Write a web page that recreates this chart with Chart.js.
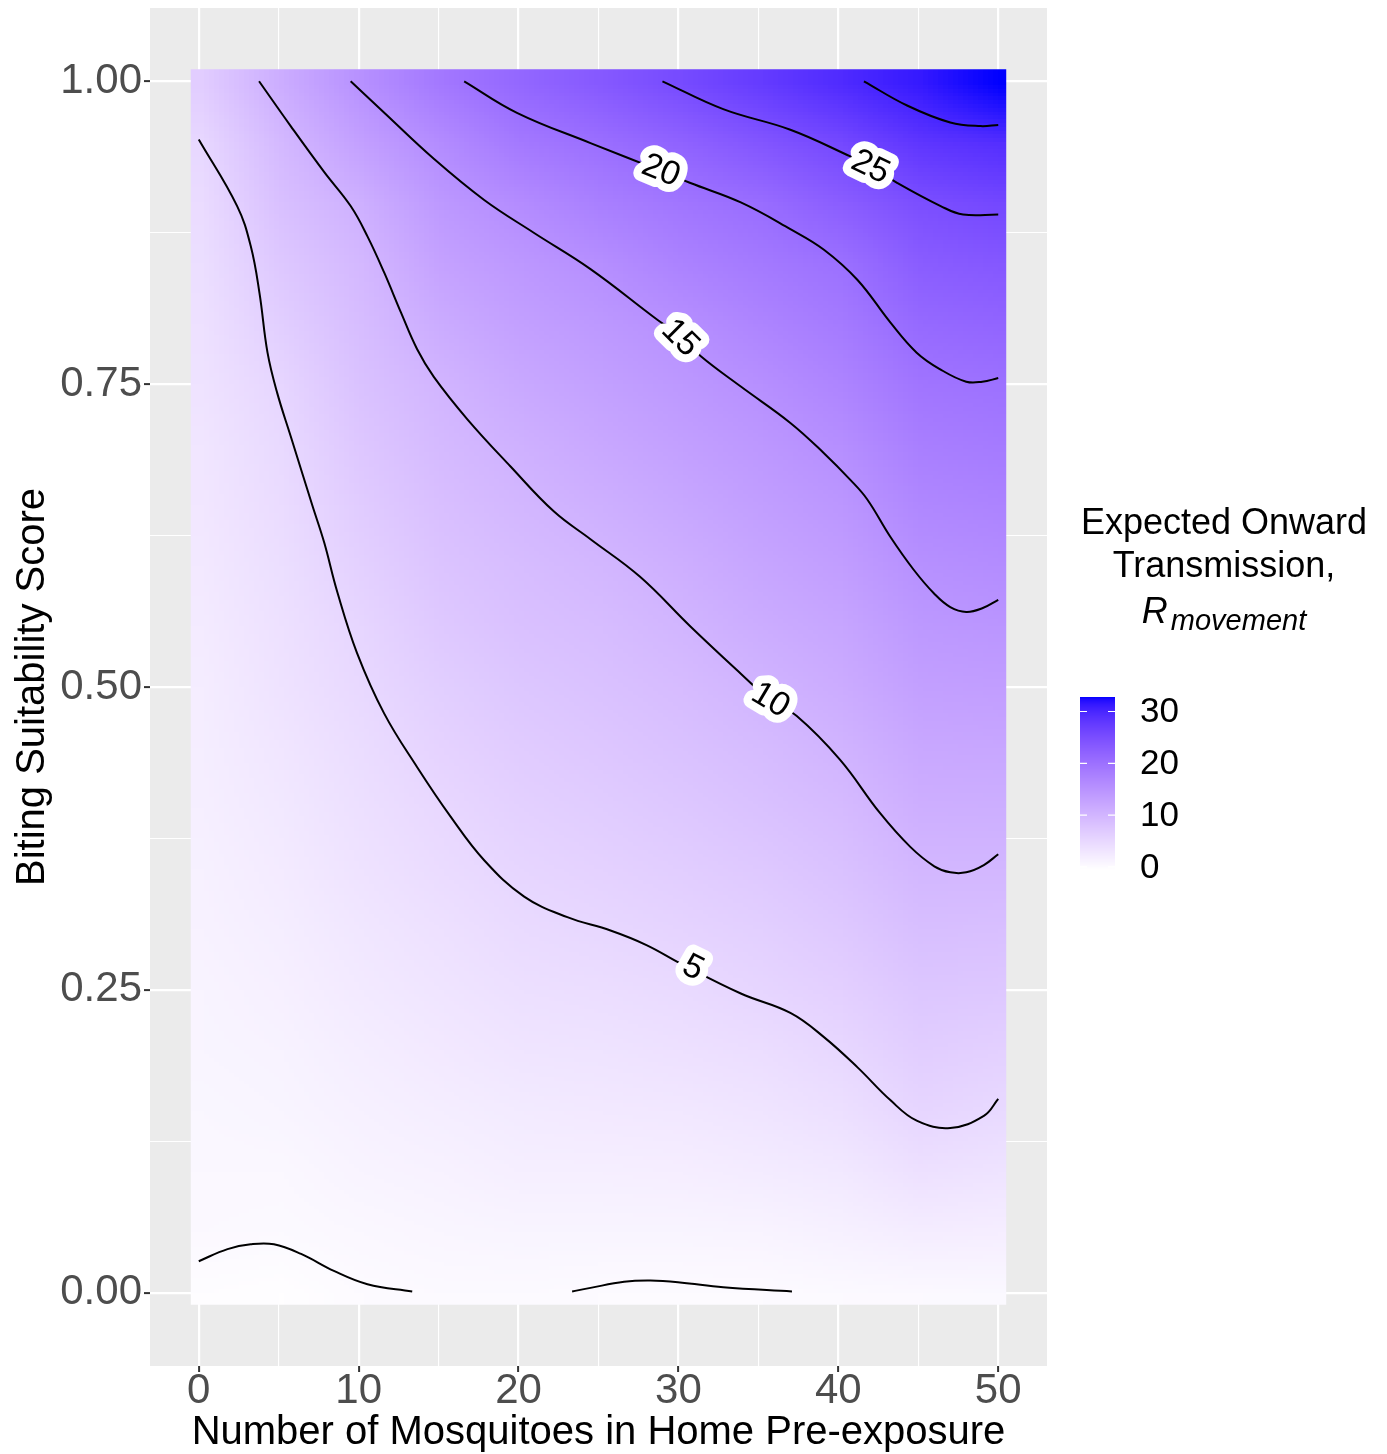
<!DOCTYPE html>
<html>
<head>
<meta charset="utf-8">
<script src="https://cdn.jsdelivr.net/npm/chart.js@4.4.1/dist/chart.umd.min.js"></script>
<style>
  body { margin: 0; background: #fff; }
</style>
</head>
<body>
<canvas id="chart" width="1387" height="1454"></canvas>
<script>
// raster nodes (mosquitoes x biting score)
const mosquitoNodes = [0, 5, 10, 15, 20, 25, 30, 35, 40, 45, 50];
const bitingNodes = [0, 0.05, 0.1, 0.15, 0.2, 0.25, 0.3, 0.35, 0.4, 0.45, 0.5,
                     0.55, 0.6, 0.65, 0.7, 0.75, 0.8, 0.85, 0.9, 0.95, 1];

// R_movement per mosquito count, from biting score 0 up to 1
const rAt0  = [-0.3, 0.2, 0.4, 0.6, 0.8, 1.0, 1.2, 1.4, 1.6, 1.8, 2.0, 2.25, 2.5, 2.75, 3.0, 3.3, 3.6, 4.0, 4.4, 5.0, 6.5];
const rAt5  = [-0.5, 0.1, 0.4, 0.8, 1.15, 1.5, 1.85, 2.2, 2.55, 2.9, 3.3, 3.65, 4.0, 4.35, 4.7, 5.2, 6.3, 7.3, 8.4, 9.4, 11.1];
const rAt10 = [-0.1, 0.4, 0.9, 1.35, 1.85, 2.35, 2.8, 3.3, 3.8, 4.25, 4.75, 5.3, 6.0, 6.7, 7.4, 8.1, 8.8, 9.5, 10.7, 13.0, 15.3];
const rAt15 = [0.05, 0.65, 1.25, 1.85, 2.5, 3.1, 3.7, 4.3, 4.9, 5.6, 6.3, 7.1, 7.8, 8.5, 9.3, 10.0, 11.3, 12.7, 14.1, 16.0, 18.9];
const rAt20 = [0.1, 0.85, 1.6, 2.3, 3.05, 3.8, 4.55, 5.3, 6.0, 6.7, 7.45, 8.2, 8.9, 9.65, 10.6, 11.8, 13.0, 14.2, 15.95, 18.7, 21.4];
const rAt25 = [-0.05, 0.8, 1.6, 2.45, 3.25, 4.1, 4.95, 5.75, 6.55, 7.35, 8.1, 8.9, 9.7, 10.7, 11.85, 12.95, 14.1, 15.5, 17.8, 20.2, 23.4];
const rAt30 = [-0.1, 0.8, 1.75, 2.65, 3.6, 4.55, 5.45, 6.35, 7.2, 8.1, 8.95, 9.85, 10.85, 11.95, 13.0, 14.1, 15.35, 17.3, 19.2, 22.0, 25.4];
const rAt35 = [-0.05, 1.0, 2.05, 3.1, 4.15, 5.2, 6.15, 7.15, 8.1, 9.05, 10.05, 11.1, 12.15, 13.2, 14.25, 15.4, 17.0, 18.65, 20.55, 23.8, 27.4];
const rAt40 = [0.1, 1.35, 2.55, 3.8, 5.0, 6.05, 7.05, 8.1, 9.15, 10.2, 11.25, 12.25, 13.3, 14.35, 15.55, 17.05, 18.5, 20.0, 22.7, 25.6, 29.4];
const rAt45 = [0.2, 1.9, 3.6, 5.2, 6.35, 7.45, 8.6, 9.7, 10.8, 11.9, 13.0, 14.1, 15.25, 16.6, 17.95, 19.3, 20.95, 22.85, 24.75, 28.1, 31.3];
const rAt50 = [0.3, 1.75, 3.25, 4.7, 6.0, 7.25, 8.45, 9.7, 10.9, 12.1, 13.3, 14.5, 15.8, 17.1, 18.5, 19.85, 21.65, 23.5, 25.7, 29.0, 32.8];
const rColumns = [rAt0, rAt5, rAt10, rAt15, rAt20, rAt25, rAt30, rAt35, rAt40, rAt45, rAt50];

// raster covers tiles of 1 mosquito x 0.02 score
const rasterX = [-0.5, 50.5];
const rasterY = [-0.01, 1.01];
const fillLimits = [-0.6, 32.8];

// contour lines [mosquitoes, score]
const contour0a = [[0,0.026],[1.8,0.036],[3.25,0.04],[4.7,0.04],[6.4,0.032],[8.45,0.018],[10.55,0.007],[13.35,0.001]];
const contour0b = [[23.35,0.001],[24.5,0.004],[26.6,0.009],[28.25,0.01],[30.1,0.0085],[32.8,0.0045],[37.1,0.001]];
const contour5 = [[0,0.952],[2.4,0.897],[3.25,0.864],[3.8,0.825],[4.3,0.776],[4.9,0.743],[5.75,0.707],[7.1,0.65],
  [7.85,0.619],[8.65,0.579],[9.9,0.528],[11.6,0.478],[13.65,0.434],[15.75,0.393],[17.85,0.357],[20.35,0.327],
  [23.05,0.31],[25.75,0.299],[28,0.287],[30.1,0.272],[33.9,0.247],[37,0.231],[39.1,0.211],[41.2,0.186],
  [43.25,0.159],[44.9,0.142],[47,0.136],[49.1,0.146],[50,0.16]];
const contour10 = [[3.77,1.0],[5.75,0.963],[7.85,0.925],[9.5,0.897],[10.55,0.872],[11.6,0.842],[12.65,0.809],
  [13.65,0.779],[14.7,0.756],[16.8,0.721],[19.5,0.682],[22.2,0.645],[24.5,0.622],[27.6,0.591],[30.75,0.55],
  [33.9,0.511],[35.75,0.489],[37.4,0.476],[40.1,0.44],[42.6,0.396],[44.5,0.368],[46,0.352],[47,0.347],
  [48,0.347],[49.1,0.353],[50,0.362]];
const contour15 = [[9.5,1.0],[11.6,0.974],[14.7,0.936],[17.85,0.902],[20.95,0.875],[24.5,0.845],[28.7,0.803],
  [30.1,0.79],[31.4,0.773],[33.9,0.748],[37,0.718],[39.1,0.693],[40.75,0.671],[41.8,0.655],[43.25,0.624],
  [44.7,0.597],[46,0.577],[47,0.566],[48,0.562],[49,0.565],[50,0.572]];
const contour20 = [[16.6,1.0],[19.9,0.974],[24.5,0.949],[28.9,0.926],[30.75,0.916],[33.9,0.9],[37,0.878],
  [39.1,0.861],[41.2,0.836],[43.25,0.801],[44.9,0.776],[46.4,0.762],[48,0.752],[49,0.752],[50,0.755]];
const contour25 = [[29,1.0],[32.8,0.977],[37,0.96],[40.75,0.938],[42,0.93],[43.7,0.916],[46.4,0.897],[47.8,0.89],[50,0.89]];
const contour30 = [[41.6,1.0],[44.3,0.98],[47,0.966],[48.9,0.963],[50,0.964]];
const contours = [contour0a, contour0b, contour5, contour10, contour15, contour20, contour25, contour30];

// labels sitting on the lines
const labelText = ['5', '10', '15', '20', '25'];
const labelLines = [contour5, contour10, contour15, contour20, contour25];
const labelX = [30.9, 35.75, 30.1, 28.9, 42.0];
const labelY = [0.268, 0.489, 0.788, 0.926, 0.929];

const xGrid = [0, 5, 10, 15, 20, 25, 30, 35, 40, 45, 50];
const yGrid = [0, 0.125, 0.25, 0.375, 0.5, 0.625, 0.75, 0.875, 1];
const legendTicks = [0, 10, 20, 30];

const FONT = "'Liberation Sans', Arial, Helvetica, sans-serif";

// white -> blue in CIELAB, like ggplot's gradient
function toLin(c) { c /= 255; return c <= 0.04045 ? c / 12.92 : Math.pow((c + 0.055) / 1.055, 2.4); }
function fromLin(c) { const v = c <= 0.0031308 ? 12.92 * c : 1.055 * Math.pow(c, 1 / 2.4) - 0.055; return Math.round(Math.min(1, Math.max(0, v)) * 255); }
const WX = 0.95047, WY = 1, WZ = 1.08883;
function rgbToLab(rgb) {
  const [r, g, b] = rgb.map(toLin);
  const X = (0.4124 * r + 0.3576 * g + 0.1805 * b) / WX;
  const Y = (0.2126 * r + 0.7152 * g + 0.0722 * b) / WY;
  const Z = (0.0193 * r + 0.1192 * g + 0.9505 * b) / WZ;
  const f = t => t > 216 / 24389 ? Math.cbrt(t) : (24389 / 27 * t + 16) / 116;
  return [116 * f(Y) - 16, 500 * (f(X) - f(Y)), 200 * (f(Y) - f(Z))];
}
function labToRgb([L, a, bb]) {
  const fy = (L + 16) / 116, fx = fy + a / 500, fz = fy - bb / 200;
  const inv = t => t * t * t > 216 / 24389 ? t * t * t : (116 * t - 16) / (24389 / 27);
  const X = inv(fx) * WX, Y = inv(fy) * WY, Z = inv(fz) * WZ;
  const r = 3.2406 * X - 1.5372 * Y - 0.4986 * Z;
  const g = -0.9689 * X + 1.8758 * Y + 0.0415 * Z;
  const b = 0.0557 * X - 0.2040 * Y + 1.0570 * Z;
  return [fromLin(r), fromLin(g), fromLin(b)];
}
const lowLab = rgbToLab([255, 255, 255]);
const highLab = rgbToLab([0, 0, 255]);
function fillColour(v) {
  let t = (v - fillLimits[0]) / (fillLimits[1] - fillLimits[0]);
  t = Math.min(1, Math.max(0, t));
  return labToRgb(lowLab.map((l, i) => l + (highLab[i] - l) * t));
}

const panelBg = {
  id: 'panelBg',
  beforeDraw(chart) {
    const { ctx, chartArea: a } = chart;
    ctx.save();
    ctx.fillStyle = '#EBEBEB';
    ctx.fillRect(a.left, a.top, a.right - a.left, a.bottom - a.top);
    ctx.restore();
  }
};

const heatmap = {
  id: 'heatmap',
  beforeDatasetsDraw(chart) {
    const { ctx, scales: { x, y } } = chart;
    const cols = mosquitoNodes.length, rows = bitingNodes.length;
    const off = document.createElement('canvas');
    off.width = cols; off.height = rows;
    const octx = off.getContext('2d');
    const img = octx.createImageData(cols, rows);
    rColumns.forEach((col, i) => col.forEach((v, j) => {
      const c = fillColour(v);
      const k = ((rows - 1 - j) * cols + i) * 4;
      img.data[k] = c[0]; img.data[k + 1] = c[1]; img.data[k + 2] = c[2]; img.data[k + 3] = 255;
    }));
    octx.putImageData(img, 0, 0);
    const hx = (mosquitoNodes[1] - mosquitoNodes[0]) / 2;
    const hy = (bitingNodes[1] - bitingNodes[0]) / 2;
    const left = x.getPixelForValue(mosquitoNodes[0] - hx);
    const right = x.getPixelForValue(mosquitoNodes[cols - 1] + hx);
    const top = y.getPixelForValue(bitingNodes[rows - 1] + hy);
    const bottom = y.getPixelForValue(bitingNodes[0] - hy);
    const cl = x.getPixelForValue(rasterX[0]), cr = x.getPixelForValue(rasterX[1]);
    const ct = y.getPixelForValue(rasterY[1]), cb = y.getPixelForValue(rasterY[0]);
    ctx.save();
    ctx.beginPath();
    ctx.rect(cl, ct, cr - cl, cb - ct);
    ctx.clip();
    ctx.imageSmoothingEnabled = true;
    ctx.drawImage(off, left, top, right - left, bottom - top);
    ctx.restore();
  }
};

const lineLabels = {
  id: 'lineLabels',
  afterDatasetsDraw(chart) {
    const { ctx, scales: { x, y } } = chart;
    ctx.save();
    ctx.font = `34px ${FONT}`;
    ctx.textAlign = 'center';
    ctx.textBaseline = 'middle';
    ctx.lineJoin = 'round';
    labelText.forEach((txt, i) => {
      const line = labelLines[i];
      // nearest segment gives the slope
      let best = 0, bd = Infinity;
      for (let k = 0; k < line.length - 1; k++) {
        const mx = (line[k][0] + line[k + 1][0]) / 2, my = (line[k][1] + line[k + 1][1]) / 2;
        const d = Math.hypot(x.getPixelForValue(mx) - x.getPixelForValue(labelX[i]), y.getPixelForValue(my) - y.getPixelForValue(labelY[i]));
        if (d < bd) { bd = d; best = k; }
      }
      const p0 = line[best], p1 = line[best + 1];
      const ang = Math.atan2(y.getPixelForValue(p1[1]) - y.getPixelForValue(p0[1]), x.getPixelForValue(p1[0]) - x.getPixelForValue(p0[0]));
      ctx.save();
      ctx.translate(x.getPixelForValue(labelX[i]), y.getPixelForValue(labelY[i]));
      ctx.rotate(ang);
      ctx.strokeStyle = '#fff';
      ctx.lineWidth = 16;
      ctx.strokeText(txt, 0, 0);
      ctx.fillStyle = '#000';
      ctx.fillText(txt, 0, 0);
      ctx.restore();
    });
    ctx.restore();
  }
};

const colourLegend = {
  id: 'colourLegend',
  afterDraw(chart) {
    const { ctx } = chart;
    const bx = 1080, bw = 35, btop = 697, bh = 173;
    const cx = 1224;
    ctx.save();
    ctx.fillStyle = '#000';
    ctx.textAlign = 'center';
    ctx.textBaseline = 'middle';
    ctx.font = `36px ${FONT}`;
    ctx.fillText('Expected Onward', cx, 524);
    ctx.fillText('Transmission,', cx, 567);
    // R with subscript
    ctx.textAlign = 'left';
    ctx.textBaseline = 'alphabetic';
    const fR = `italic 36px ${FONT}`, fSub = `italic 29px ${FONT}`;
    ctx.font = fR; const wR = ctx.measureText('R').width;
    ctx.font = fSub; const wS = ctx.measureText('movement').width;
    const start = cx - (wR + 3 + wS) / 2;
    ctx.font = fR; ctx.fillText('R', start, 623);
    ctx.font = fSub; ctx.fillText('movement', start + wR + 3, 630);

    // colour bar
    const span = fillLimits[1] - fillLimits[0];
    for (let i = 0; i < bh; i++) {
      const v = fillLimits[1] - (i + 0.5) / bh * span;
      const c = fillColour(v);
      ctx.fillStyle = `rgb(${c[0]},${c[1]},${c[2]})`;
      ctx.fillRect(bx, btop + i, bw, 1.2);
    }
    const vy = v => btop + (fillLimits[1] - v) / span * bh;
    ctx.strokeStyle = '#fff';
    ctx.lineWidth = 1.2;
    ctx.font = `35px ${FONT}`;
    ctx.textBaseline = 'middle';
    legendTicks.forEach(v => {
      const py = vy(v);
      ctx.beginPath();
      ctx.moveTo(bx, py); ctx.lineTo(bx + 7, py);
      ctx.moveTo(bx + bw - 7, py); ctx.lineTo(bx + bw, py);
      ctx.stroke();
      ctx.fillStyle = '#000';
      ctx.fillText(String(v), 1140, py + 1);
    });
    ctx.restore();
  }
};

const isMajorX = v => Math.abs(v % 10) < 1e-9;
const isMajorY = v => Math.abs(v * 4 - Math.round(v * 4)) < 1e-9;

new Chart(document.getElementById('chart'), {
  type: 'scatter',
  data: {
    datasets: contours.map(c => ({
      data: c.map(p => ({ x: p[0], y: p[1] })),
      showLine: true,
      borderColor: '#000',
      borderWidth: 2,
      pointRadius: 0,
      tension: 0.4,
      fill: false
    }))
  },
  options: {
    responsive: false,
    animation: false,
    events: [],
    layout: { padding: { left: 0, top: 8, right: 340, bottom: 0 } },
    plugins: { legend: { display: false }, tooltip: { enabled: false } },
    scales: {
      x: {
        type: 'linear',
        min: -3.05,
        max: 53.05,
        afterBuildTicks: s => { s.ticks = xGrid.map(v => ({ value: v })); },
        afterFit: s => { s.height = 88; s.paddingLeft = 0; s.paddingRight = 0; },
        border: { display: false },
        grid: {
          color: '#fff',
          lineWidth: c => isMajorX(c.tick.value) ? 2.2 : 1.1,
          tickColor: c => isMajorX(c.tick.value) ? '#333' : 'rgba(0,0,0,0)',
          tickLength: 6,
          tickWidth: 2
        },
        ticks: {
          autoSkip: false,
          maxRotation: 0,
          padding: -2,
          color: '#4D4D4D',
          font: { family: FONT, size: 42, lineHeight: 1.0 },
          callback: v => isMajorX(v) ? String(v) : ''
        },
        title: {
          display: true,
          text: 'Number of Mosquitoes in Home Pre-exposure',
          color: '#000',
          font: { family: FONT, size: 40, lineHeight: 1.2 },
          padding: { top: 0, bottom: -3 }
        }
      },
      y: {
        type: 'linear',
        min: -0.0605,
        max: 1.0605,
        afterBuildTicks: s => { s.ticks = yGrid.map(v => ({ value: v })); },
        afterFit: s => { s.width = 150; s.paddingTop = 0; s.paddingBottom = 0; },
        border: { display: false },
        grid: {
          color: '#fff',
          lineWidth: c => isMajorY(c.tick.value) ? 2.2 : 1.1,
          tickColor: c => isMajorY(c.tick.value) ? '#333' : 'rgba(0,0,0,0)',
          tickLength: 6,
          tickWidth: 2
        },
        ticks: {
          autoSkip: false,
          padding: 2,
          color: '#4D4D4D',
          font: { family: FONT, size: 42, lineHeight: 1.0 },
          callback: v => isMajorY(v) ? v.toFixed(2) : ''
        },
        title: {
          display: true,
          text: 'Biting Suitability Score',
          color: '#000',
          font: { family: FONT, size: 40, lineHeight: 1.2 },
          padding: { top: 9, bottom: 0 }
        }
      }
    }
  },
  plugins: [panelBg, heatmap, lineLabels, colourLegend]
});
</script>
</body>
</html>
